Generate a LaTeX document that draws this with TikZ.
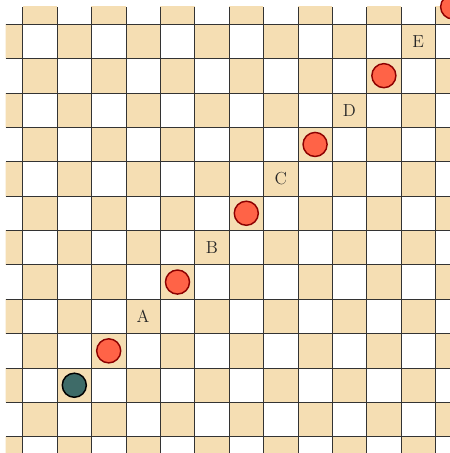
\documentclass[tikz,border=0pt]{standalone}
\definecolor{tan}{RGB}{245,222,179}
\definecolor{piecered}{RGB}{255,99,71}
\definecolor{piecegreen}{RGB}{62,107,104}
\tikzset{
  redpiece/.style={circle, draw=red!55!black, fill=piecered, line width=1.2pt, minimum size=0.7cm, inner sep=0pt},
  greenpiece/.style={circle, draw=black, fill=piecegreen, line width=1.2pt, minimum size=0.7cm, inner sep=0pt},
  marklabel/.style={inner sep=0pt, font=\Large, text=black!85}
}
\begin{document}
\begin{tikzpicture}
\useasboundingbox (-0.66,-0.47) rectangle (12.42,12.70);
\clip (-0.66,-0.47) rectangle (12.42,12.70);
\begin{scope}
\clip (-0.5,-0.5) rectangle (12.5,12.5);
\foreach \i in {-1,...,12}{
  \foreach \j in {-1,...,12}{
    \pgfmathtruncatemacro{\cellpar}{mod(\i+\j+100,2)}
    \ifnum\cellpar=0
      \fill[tan] (\i,\j) rectangle ++(1,1);
    \fi
  }
}
\foreach \k in {0,...,12}{
  \draw[black!80, line width=0.6pt] (\k,-0.5) -- (\k,12.5);
  \draw[black!80, line width=0.6pt] (-0.5,\k) -- (12.5,\k);
}
\end{scope}
\node[greenpiece] (g) at (1.5,1.5) {};
\node[redpiece] (r1) at (2.5,2.5) {};
\node[redpiece] (r2) at (4.5,4.5) {};
\node[redpiece] (r3) at (6.5,6.5) {};
\node[redpiece] (r4) at (8.5,8.5) {};
\node[redpiece] (r5) at (10.5,10.5) {};
\node[redpiece] (r6) at (12.5,12.5) {};
\node[marklabel] (la) at (3.5,3.5) {A};
\node[marklabel] (lb) at (5.5,5.5) {B};
\node[marklabel] (lc) at (7.5,7.5) {C};
\node[marklabel] (ld) at (9.5,9.5) {D};
\node[marklabel] (le) at (11.5,11.5) {E};
\end{tikzpicture}
\end{document}
